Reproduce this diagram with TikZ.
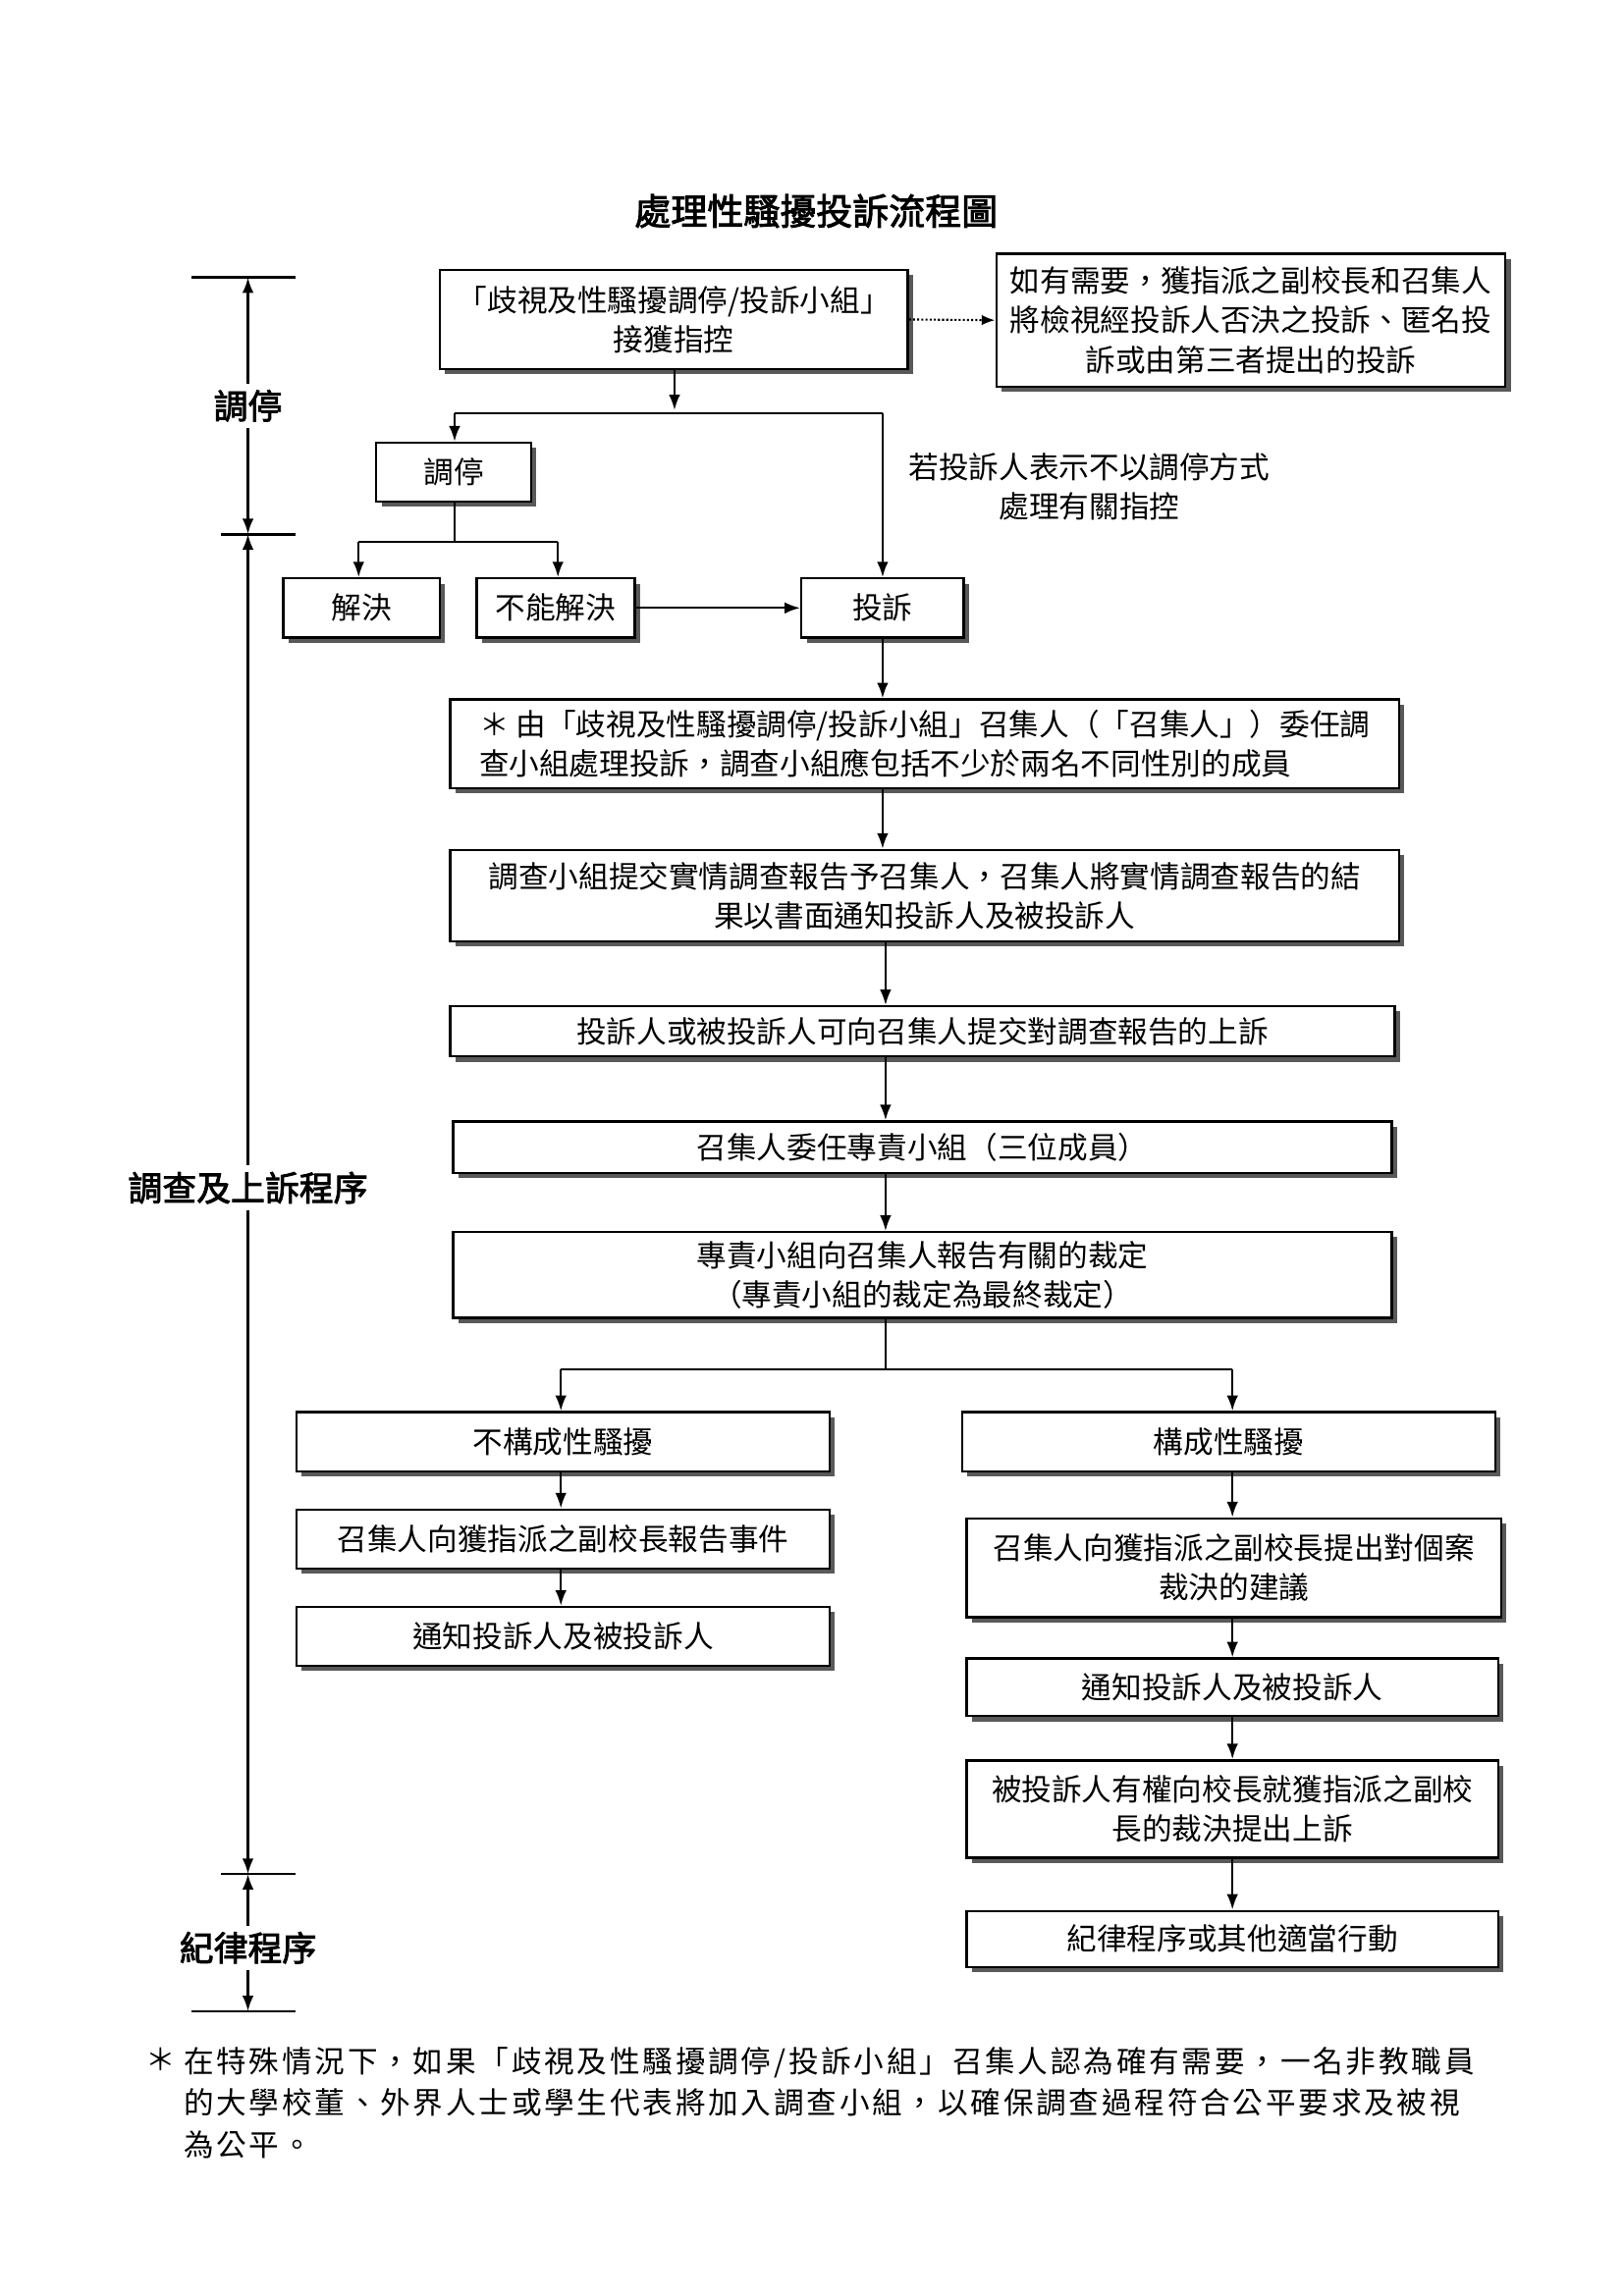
\documentclass[tikz,border=0pt]{standalone}
\usepackage{fontspec}
\setmainfont{Noto Sans CJK TC}[AutoFakeBold=2.5]
\usetikzlibrary{shadows,arrows.meta}
\begin{document}
\begin{tikzpicture}[x=0.05cm,y=-0.05cm,
 every node/.style={font=\fontsize{29}{38}\selectfont},
 box/.style={draw,line width=2.2pt,fill=white,inner sep=2pt,align=center,
   drop shadow={shadow xshift=5pt,shadow yshift=-5pt,fill=black!65,opacity=1}},
 arr/.style={line width=2.2pt,-{Latex[length=15pt,width=11pt]}},
 ln/.style={line width=2.2pt},
 lab/.style={font=\fontsize{33}{40}\selectfont\bfseries,fill=white,inner sep=6pt}]
\useasboundingbox (0,0) rectangle (1100,1556);
\newcommand\bx[6]{\node[box,minimum width={(#4-#2)*0.05cm},minimum height={(#5-#3)*0.05cm}] (#1) at ({(#2+#4)/2},{(#3+#5)/2}) {#6};}
\node[font=\fontsize{35}{40}\selectfont\bfseries] (title) at (553,143) {處理性騷擾投訴流程圖};
\bx{A}{298}{183}{615}{250}{「歧視及性騷擾調停/投訴小組」\\接獲指控}
\bx{B}{675}{172}{1020}{262}{如有需要，獲指派之副校長和召集人\\將檢視經投訴人否決之投訴、匿名投\\訴或由第三者提出的投訴}
\bx{C}{255}{300}{360}{340}{調停}
\bx{D}{192}{392}{298}{432}{解決}
\bx{E}{323}{392}{430}{432}{不能解決}
\bx{F}{543}{392}{653}{432}{投訴}
\node[box,minimum width={643*0.05cm},minimum height={60*0.05cm},align=left] (G) at (626.5,504) {＊ 由「歧視及性騷擾調停/投訴小組」召集人（「召集人」）委任調\\查小組處理投訴，調查小組應包括不少於兩名不同性別的成員};
\bx{H}{305}{576}{948}{638}{調查小組提交實情調查報告予召集人，召集人將實情調查報告的結\\果以書面通知投訴人及被投訴人}
\bx{I}{305}{682}{945}{716}{投訴人或被投訴人可向召集人提交對調查報告的上訴}
\bx{J}{307}{760}{943}{795}{召集人委任專責小組（三位成員）}
\bx{K}{307}{835}{943}{893}{專責小組向召集人報告有關的裁定\\（專責小組的裁定為最終裁定）}
\bx{L}{201}{957}{562}{997}{不構成性騷擾}
\bx{M}{652}{957}{1013}{997}{構成性騷擾}
\bx{N}{201}{1023}{562}{1063}{召集人向獲指派之副校長報告事件}
\bx{O}{201}{1089}{562}{1129}{通知投訴人及被投訴人}
\bx{P}{655}{1029}{1017}{1096}{召集人向獲指派之副校長提出對個案\\裁決的建議}
\bx{Q}{655}{1124}{1015}{1163}{通知投訴人及被投訴人}
\bx{R}{655}{1193}{1015}{1259}{被投訴人有權向校長就獲指派之副校\\長的裁決提出上訴}
\bx{S}{655}{1295}{1015}{1333}{紀律程序或其他適當行動}
% connectors
\draw[line width=2pt,dotted,-{Latex[length=13pt,width=10pt]}] (A.east) -- (B.west);
\coordinate (a1) at (457,278);
\draw[arr] (A.south -| a1) -- (a1);
\draw[ln] (308,280) -- (598,280);
\draw[arr] (308,280) -- (C.north -| 308,0);
\draw[arr] (598,280) -- (F.north);
\node[align=center] (note) at (738,330) {若投訴人表示不以調停方式\\處理有關指控};
\draw[ln] (C.south -| 308,0) -- (308,367);
\draw[ln] (243,367) -- (378,367);
\draw[arr] (243,367) -- (D.north -| 243,0);
\draw[arr] (378,367) -- (E.north -| 378,0);
\draw[arr] (E.east) -- (F.west);
\draw[arr] (F.south) -- (G.north -| F.south);
\draw[arr] (G.south -| 598,0) -- (H.north -| 598,0);
\draw[arr] (H.south -| 600,0) -- (I.north -| 600,0);
\draw[arr] (I.south -| 600,0) -- (J.north -| 600,0);
\draw[arr] (J.south -| 600,0) -- (K.north -| 600,0);
\draw[ln] (K.south -| 600,0) -- (600,928);
\draw[ln] (380,928) -- (835,928);
\draw[arr] (380,928) -- (L.north -| 380,0);
\draw[arr] (835,928) -- (M.north -| 835,0);
\draw[arr] (L.south -| 380,0) -- (N.north -| 380,0);
\draw[arr] (N.south -| 380,0) -- (O.north -| 380,0);
\draw[arr] (M.south -| 835,0) -- (P.north -| 835,0);
\draw[arr] (P.south -| 835,0) -- (Q.north -| 835,0);
\draw[arr] (Q.south -| 835,0) -- (R.north -| 835,0);
\draw[arr] (R.south -| 835,0) -- (S.north -| 835,0);
% left timeline
\draw[line width=2.6pt] (130,188) -- (200,188);
\draw[line width=2.6pt] (150,362) -- (200,362);
\draw[line width=2.6pt] (150,1270) -- (200,1270);
\draw[line width=2.6pt] (130,1363) -- (200,1363);
\node[lab] (t1) at (168,275) {調停};
\node[lab] (t2) at (168,805) {調查及上訴程序};
\node[lab] (t3) at (168,1320) {紀律程序};
\draw[arr] (t1.north) -- (168,188);
\draw[arr] (t1.south) -- (168,362);
\draw[arr] (t2.north) -- (168,362);
\draw[arr] (t2.south) -- (168,1270);
\draw[arr] (t3.north) -- (168,1270);
\draw[arr] (t3.south) -- (168,1363);
% footnote
\node[anchor=north west] (fs) at (96,1385) {＊};
\node[anchor=north west,align=left,font=\fontsize{29}{40}\selectfont\addfontfeatures{LetterSpace=9}] (fn) at (122,1385) {在特殊情況下，如果「歧視及性騷擾調停/投訴小組」召集人認為確有需要，一名非教職員\\的大學校董、外界人士或學生代表將加入調查小組，以確保調查過程符合公平要求及被視\\為公平。};
\end{tikzpicture}
\end{document}
